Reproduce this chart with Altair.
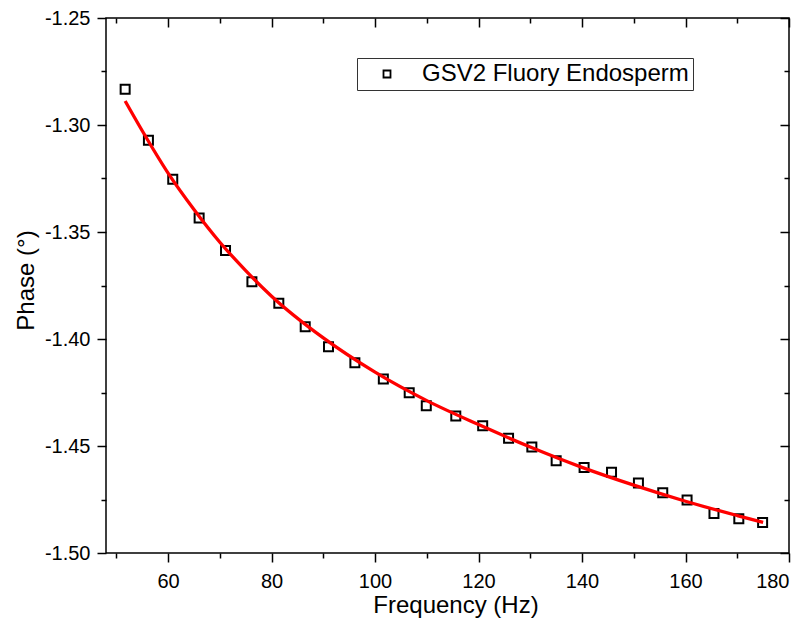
import altair as alt
import pandas as pd

# measured data points
freq = [51.7, 56.2, 60.9, 66.0, 71.1, 76.2, 81.4, 86.5, 91.0, 96.1, 101.6, 106.6, 109.9,
        115.6, 120.8, 125.8, 130.3, 135.0, 140.4, 145.7, 150.9, 155.6, 160.3, 165.5, 170.3, 174.9]
phase = [-1.2833, -1.3071, -1.3254, -1.3435, -1.3587, -1.3732, -1.3833, -1.3943, -1.4036,
         -1.4111, -1.4187, -1.4251, -1.4312, -1.4360, -1.4405, -1.4464, -1.4505, -1.4569,
         -1.4601, -1.4623, -1.4673, -1.4718, -1.4752, -1.4815, -1.4840, -1.4858]

# fitted curve
fit_freq = [51.7, 55, 60, 65, 70, 75, 80, 90, 100, 110, 120, 130, 140, 150, 160, 170, 175]
fit_phase = [-1.2888, -1.3027, -1.3225, -1.3395, -1.3548, -1.3680, -1.3800, -1.3995, -1.4155,
             -1.4288, -1.4400, -1.4505, -1.4600, -1.4683, -1.4758, -1.4825, -1.4857]

series_name = "GSV2 Fluory Endosperm"

x_major = [60, 80, 100, 120, 140, 160, 180]
x_minor = [50, 70, 90, 110, 130, 150, 170]
y_major = [-1.50, -1.45, -1.40, -1.35, -1.30, -1.25]
y_minor = [-1.475, -1.425, -1.375, -1.325, -1.275]

FONT = "Liberation Sans"

pts = pd.DataFrame({"f": freq, "p": phase, "s": [series_name] * len(freq)})
fit = pd.DataFrame({"f": fit_freq, "p": fit_phase})

xs = alt.Scale(domain=[48, 180], nice=False, zero=False)
ys = alt.Scale(domain=[-1.50, -1.25], nice=False, zero=False)

common = dict(domain=False, grid=False, tickColor="black", tickWidth=1.5)

x_bottom_major = alt.Axis(orient="bottom", values=x_major, tickSize=9, labelPadding=9,
                          format="d", labelFont=FONT, labelFontSize=20, labelColor="black",
                          title="Frequency (Hz)", titleFont=FONT, titleFontSize=24,
                          titleFontWeight="normal", titleColor="black",
                          titleX=349.5, titleY=59, titleAlign="center",
                          titleBaseline="alphabetic", **common)
y_left_major = alt.Axis(orient="left", values=y_major, tickSize=9, labelPadding=7,
                        labelExpr="replace(format(datum.value, '.2f'), '\u2212', '-')",
                        labelFont=FONT, labelFontSize=20, labelColor="black",
                        title="Phase (\u00b0)", titleFont=FONT, titleFontSize=24,
                        titleFontWeight="normal", titleColor="black",
                        titleX=-73, titleY=262, titleAngle=270, titleAlign="center",
                        titleBaseline="alphabetic", **common)
x_bottom_minor = alt.Axis(orient="bottom", values=x_minor, tickSize=5, labels=False,
                          title=None, **common)
y_left_minor = alt.Axis(orient="left", values=y_minor, tickSize=5, labels=False,
                        title=None, **common)
x_top_major = alt.Axis(orient="top", values=x_major, tickSize=9, offset=-9, labels=False,
                       title=None, **common)
y_right_major = alt.Axis(orient="right", values=y_major, tickSize=9, offset=-9, labels=False,
                         title=None, **common)
x_top_minor = alt.Axis(orient="top", values=x_minor, tickSize=5, offset=-5, labels=False,
                       title=None, **common)
y_right_minor = alt.Axis(orient="right", values=y_minor, tickSize=5, offset=-5, labels=False,
                         title=None, **common)

points = alt.Chart(pts).mark_point(shape="square", filled=False, size=81, strokeWidth=2,
                                   opacity=1).encode(
    x=alt.X("f:Q", scale=xs, axis=x_bottom_major),
    y=alt.Y("p:Q", scale=ys, axis=y_left_major),
    color=alt.Color("s:N", scale=alt.Scale(domain=[series_name], range=["black"]),
                    legend=alt.Legend(orient="none", legendX=251, legendY=40, title=None,
                                      strokeColor="#333333", padding=4,
                                      labelFont=FONT, labelFontSize=24, labelColor="black",
                                      labelLimit=500,
                                      symbolSize=49, symbolStrokeWidth=1.8,
                                      symbolOpacity=1,
                                      symbolType="square", symbolOffset=14,
                                      labelOffset=23)),
)

line = alt.Chart(fit).mark_line(color="#ff0000", strokeWidth=3.3, interpolate="monotone").encode(
    x=alt.X("f:Q", scale=xs, axis=x_bottom_minor),
    y=alt.Y("p:Q", scale=ys, axis=y_left_minor),
)

ghost1 = alt.Chart(fit).mark_line(opacity=0).encode(
    x=alt.X("f:Q", scale=xs, axis=x_top_major),
    y=alt.Y("p:Q", scale=ys, axis=y_right_major),
)
ghost2 = alt.Chart(fit).mark_line(opacity=0).encode(
    x=alt.X("f:Q", scale=xs, axis=x_top_minor),
    y=alt.Y("p:Q", scale=ys, axis=y_right_minor),
)

chart = alt.layer(points, line, ghost1, ghost2).resolve_axis(
    x="independent", y="independent"
).properties(
    width=683, height=535,
    autosize=alt.AutoSizeParams(type="none"),
    padding={"left": 98, "top": 10, "right": 10, "bottom": 66},
    background="white",
).configure_view(stroke="black", strokeWidth=1.5)

chart.save("out.html", embed_options={"renderer": "svg", "actions": False})
